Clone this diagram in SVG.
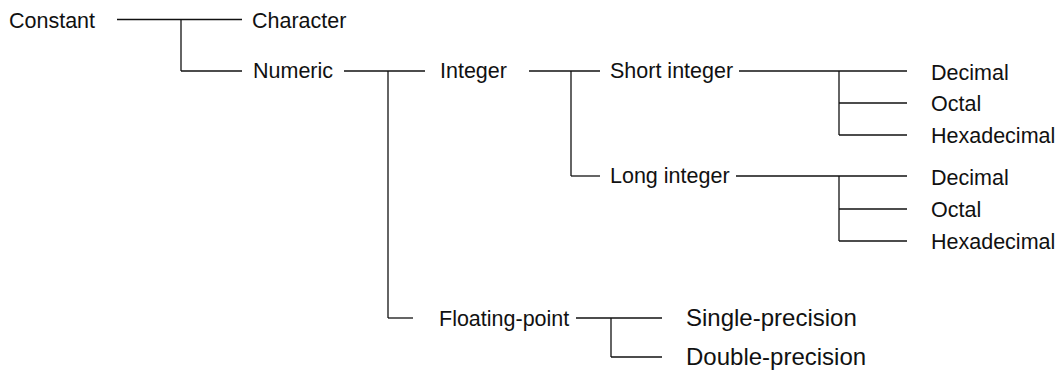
<svg xmlns="http://www.w3.org/2000/svg" width="1061" height="370" viewBox="0 0 1061 370">
<style>
text{font-family:"Liberation Sans",Arial,Helvetica,sans-serif;font-size:21.5px;fill:#111}
text.big{font-size:24px}
#connectors line{stroke:#111;stroke-width:1.3;fill:none}
</style>
<rect width="1061" height="370" fill="#fff"/>
<g id="connectors">
<line x1="117" y1="19.5" x2="242" y2="19.5"/>
<line x1="181" y1="19.5" x2="181" y2="71"/>
<line x1="181" y1="71" x2="242" y2="71"/>
<line x1="344" y1="71" x2="425" y2="71"/>
<line x1="388" y1="71" x2="388" y2="318"/>
<line x1="388" y1="318" x2="413" y2="318"/>
<line x1="529" y1="71" x2="600" y2="71"/>
<line x1="571" y1="71" x2="571" y2="176"/>
<line x1="571" y1="176" x2="600" y2="176"/>
<line x1="739" y1="71" x2="907" y2="71"/>
<line x1="839" y1="71" x2="839" y2="135"/>
<line x1="839" y1="103" x2="907" y2="103"/>
<line x1="839" y1="135" x2="907" y2="135"/>
<line x1="736" y1="176" x2="907" y2="176"/>
<line x1="839" y1="176" x2="839" y2="241"/>
<line x1="839" y1="209" x2="907" y2="209"/>
<line x1="839" y1="241" x2="907" y2="241"/>
<line x1="576" y1="318" x2="662" y2="318"/>
<line x1="611" y1="318" x2="611" y2="357"/>
<line x1="611" y1="357" x2="662" y2="357"/>
</g>
<g id="constant"><text x="9" y="27.5">Constant</text></g>
<g id="character"><text x="252" y="27.5">Character</text></g>
<g id="numeric"><text x="253" y="78">Numeric</text></g>
<g id="integer"><text x="440" y="78">Integer</text></g>
<g id="short-integer"><text x="610" y="78">Short integer</text></g>
<g id="short-decimal"><text x="931" y="80">Decimal</text></g>
<g id="short-octal"><text x="931" y="111">Octal</text></g>
<g id="short-hexadecimal"><text x="931" y="142.5">Hexadecimal</text></g>
<g id="long-integer"><text x="610" y="183">Long integer</text></g>
<g id="long-decimal"><text x="931" y="185">Decimal</text></g>
<g id="long-octal"><text x="931" y="217">Octal</text></g>
<g id="long-hexadecimal"><text x="931" y="248.5">Hexadecimal</text></g>
<g id="floating-point"><text x="439" y="325.5">Floating-point</text></g>
<g id="single-precision"><text class="big" x="686" y="326">Single-precision</text></g>
<g id="double-precision"><text class="big" x="686" y="365">Double-precision</text></g>
</svg>
